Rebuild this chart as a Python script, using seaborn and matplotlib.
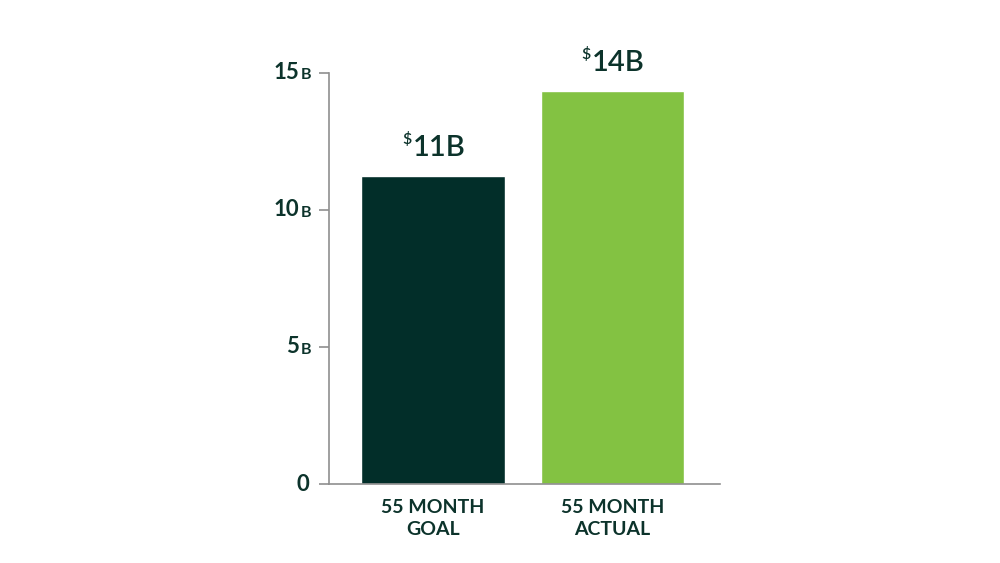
import pandas as pd
import matplotlib.pyplot as plt
import seaborn as sns

# values in billions
categories = ["55 MONTH\nGOAL", "55 MONTH\nACTUAL"]
values = [11.25, 14.35]
value_labels = ["11B", "14B"]
bar_colors = ["#022e29", "#83c242"]
yticks = [0, 5, 10, 15]
ytick_labels = ["0", "5", "10", "15"]

TEXT = "#0c332b"
GRID = "#8f8f8f"

sns.set_theme(style="white")
plt.rcParams["font.family"] = ["Lato", "DejaVu Sans"]

df = pd.DataFrame({"cat": categories, "val": values})

fig = plt.figure(figsize=(10, 5.63), dpi=100)
ax = fig.add_axes([0.329, 0.1403, 0.391, 0.7306])

sns.barplot(data=df, x="cat", y="val", hue="cat", palette=bar_colors,
            width=0.8, saturation=1, legend=False, ax=ax)

ax.set_xlim(-0.58, 1.6)
ax.set_ylim(0, 15)
ax.set_xlabel("")
ax.set_ylabel("")

for side in ["top", "right"]:
    ax.spines[side].set_visible(False)
for side in ["left", "bottom"]:
    ax.spines[side].set_color(GRID)
    ax.spines[side].set_linewidth(1.2)

# y ticks: numbers with a small "B" drawn separately
ax.set_yticks(yticks)
ax.set_yticklabels([])
ax.tick_params(axis="y", direction="out", length=7, width=1.2, color=GRID, left=True)
ax.tick_params(axis="x", length=0, pad=11)
ax.set_xticks(range(len(categories)))
ax.set_xticklabels(categories, fontsize=14, fontweight="bold", color=TEXT,
                   linespacing=1.35)

ytr = ax.get_yaxis_transform()
for v, lab in zip(yticks, ytick_labels):
    if v == 0:
        ax.annotate(lab, xy=(0, v), xycoords=ytr, xytext=(-14, 0),
                    textcoords="offset points", ha="right", va="center",
                    fontsize=16, fontweight="bold", color=TEXT)
    else:
        ax.annotate("B", xy=(0, v), xycoords=ytr, xytext=(-13, -2),
                    textcoords="offset points", ha="right", va="center",
                    fontsize=11.5, fontweight="bold", color=TEXT)
        ax.annotate(lab, xy=(0, v), xycoords=ytr, xytext=(-21.5, 0),
                    textcoords="offset points", ha="right", va="center",
                    fontsize=16, fontweight="bold", color=TEXT)

# value labels above bars: small superscript "$" + amount
fig.canvas.draw()
renderer = fig.canvas.get_renderer()
for i, (v, lab) in enumerate(zip(values, value_labels)):
    main = ax.annotate(lab, xy=(i, v), xytext=(0, 14), textcoords="offset points",
                       ha="left", va="baseline", fontsize=21, fontweight="semibold",
                       color=TEXT)
    dollar = ax.annotate("$", xy=(i, v), xytext=(0, 23), textcoords="offset points",
                         ha="right", va="baseline", fontsize=11.5, fontweight="semibold",
                         color=TEXT)
    w_main = main.get_window_extent(renderer).width
    w_dol = dollar.get_window_extent(renderer).width
    shift = (w_dol - w_main) / 2 * 72 / fig.dpi
    main.set_position((shift + 1, 14))
    dollar.set_position((shift, 23))

fig.savefig("out.png", dpi=100, facecolor="white")
plt.close(fig)
